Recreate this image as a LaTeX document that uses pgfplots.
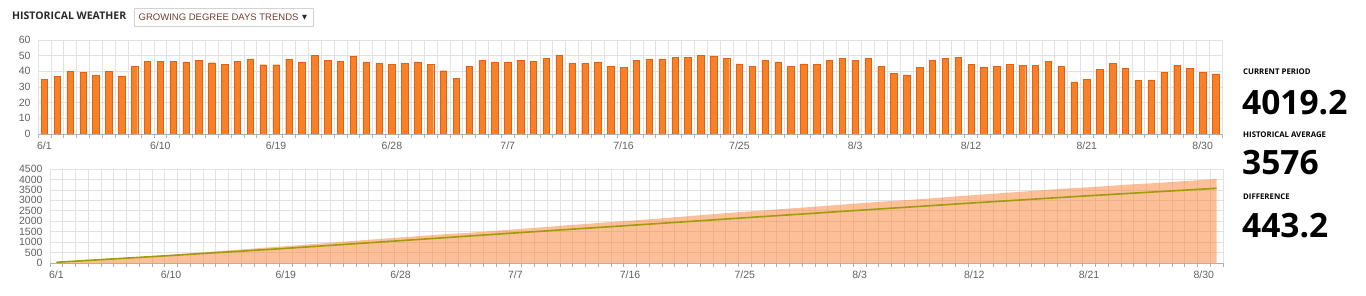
\documentclass[border=0pt]{standalone}
\usepackage{pgfplots}
\pgfplotsset{compat=1.18}
\usepackage{fontspec}
\setmainfont{Liberation Sans}
\newfontfamily\osans{Open Sans}
\newfontfamily\djv{DejaVu Sans}
\definecolor{barorange}{RGB}{247,128,40}
\definecolor{bardark}{RGB}{224,98,18}
\definecolor{areaorange}{RGB}{249,128,48}
\definecolor{linegreen}{RGB}{158,156,8}
\definecolor{gridgray}{RGB}{226,226,226}
\definecolor{axisgray}{RGB}{176,176,176}
\definecolor{labelgray}{RGB}{96,96,96}
\definecolor{titlecol}{RGB}{40,40,40}
\definecolor{ddbrown}{RGB}{112,62,50}
\definecolor{boxgray}{RGB}{210,210,210}
\pgfplotsset{
  gddaxis/.style={
    anchor=south west, scale only axis,
    xmin=-0.5, xmax=91.5, ymin=0,
    xtick={-0.5,0.5,...,91.5}, xticklabels={},
    extra x ticks={0,9,18,27,36,45,54,63,72,81,90},
    extra x tick labels={6/1,6/10,6/19,6/28,7/7,7/16,7/25,8/3,8/12,8/21,8/30},
    extra x tick style={major tick length=0pt, grid=none},
    xmajorgrids, ymajorgrids,
    grid style={color=gridgray, line width=0.6pt},
    axis line style={draw=none},
    xtick pos=left, ytick pos=left,
    tick align=outside, major tick length=4pt,
    xtick style={color=axisgray, line width=0.6pt},
    ytick style={draw=none},
    ticklabel style={font=\fontsize{10.5}{12}\selectfont, color=labelgray},
    xticklabel style={yshift=-4.5pt},
    /pgf/number format/assume math mode=true,
    /pgf/number format/1000 sep={},
    clip=false,
  }
}
\begin{document}
\begin{tikzpicture}[x=1pt,y=1pt]
\path[use as bounding box] (0,0) rectangle (1366,296);
% header
\node[anchor=base west, inner sep=0pt, font=\osans\bfseries\fontsize{10.5}{12}\selectfont, text=titlecol] at (12,276) {HISTORICAL WEATHER};
\draw[boxgray, line width=0.7pt] (134,287.7) rectangle (313,269.3);
\node[anchor=base west, inner sep=0pt, font=\fontsize{9.5}{11}\selectfont, text=ddbrown] at (138.5,275) {GROWING DEGREE DAYS TRENDS};
\node[anchor=base west, inner sep=0pt, font=\djv\fontsize{6.5}{8}\selectfont, text=titlecol] at (302,276) {▼};
% right panel
\node[anchor=base west, inner sep=0pt, font=\osans\bfseries\fontsize{7.8}{9}\selectfont, text=black] at (1243,221) {CURRENT PERIOD};
\node[anchor=base west, inner sep=0pt, font=\osans\bfseries\fontsize{33.5}{36}\selectfont, text=black] at (1242,181) {4019.2};
\node[anchor=base west, inner sep=0pt, font=\osans\bfseries\fontsize{7.8}{9}\selectfont, text=black] at (1243,158.3) {HISTORICAL AVERAGE};
\node[anchor=base west, inner sep=0pt, font=\osans\bfseries\fontsize{33.5}{36}\selectfont, text=black] at (1242,121) {3576};
\node[anchor=base west, inner sep=0pt, font=\osans\bfseries\fontsize{7.8}{9}\selectfont, text=black] at (1243,96) {DIFFERENCE};
\node[anchor=base west, inner sep=0pt, font=\osans\bfseries\fontsize{33.5}{36}\selectfont, text=black] at (1242,58) {443.2};
% top: daily GDD bars
\begin{axis}[gddaxis, at={(38pt,162pt)}, width=1184pt, height=94pt,
  ymax=60, ytick={0,10,...,60}, ybar, bar width=0.5]
\addplot[fill=barorange, draw=bardark, line width=0.4pt] coordinates {
(0,34.7) (1,36.8) (2,39.8) (3,39.2) (4,37.3) (5,40.2) (6,37.1) (7,43.2) (8,46.3) (9,46.5)
(10,46.5) (11,46.1) (12,47.2) (13,45.5) (14,44.4) (15,46.5) (16,48.0) (17,44.2) (18,44.2) (19,48.0)
(20,46.1) (21,50.3) (22,47.2) (23,46.3) (24,49.5) (25,46.1) (26,45.1) (27,44.5) (28,44.9) (29,46.0)
(30,44.3) (31,40.4) (32,35.5) (33,43.4) (34,47.0) (35,46.0) (36,46.0) (37,47.0) (38,46.4) (39,48.1)
(40,50.2) (41,45.1) (42,45.1) (43,46.0) (44,43.4) (45,42.6) (46,47.2) (47,47.9) (48,47.9) (49,48.7)
(50,49.1) (51,50.0) (52,49.8) (53,48.1) (54,44.7) (55,43.0) (56,47.0) (57,46.1) (58,43.2) (59,44.7)
(60,44.3) (61,46.8) (62,48.1) (63,46.8) (64,48.3) (65,43.0) (66,38.5) (67,37.7) (68,42.6) (69,47.0)
(70,48.1) (71,49.1) (72,44.3) (73,42.8) (74,43.4) (75,44.5) (76,43.8) (77,43.8) (78,46.4) (79,43.0)
(80,33.2) (81,35.1) (82,41.3) (83,44.9) (84,41.9) (85,34.3) (86,34.5) (87,39.4) (88,43.6) (89,41.7)
(90,39.4) (91,38.3)};
\draw[axisgray, line width=0.7pt] (axis cs:-0.5,0) -- (axis cs:91.5,0);
\end{axis}
% bottom: cumulative
\begin{axis}[gddaxis, at={(50pt,33pt)}, width=1173pt, height=94pt,
  ymax=4500, ytick={0,500,...,4500}]
\addplot[fill=areaorange, fill opacity=0.5, draw=none] coordinates {
(0,34.2) (1,70.6) (2,109.9) (3,148.7) (4,185.5) (5,225.2) (6,261.9) (7,304.6) (8,350.5) (9,396.5)
(10,442.5) (11,488.2) (12,534.9) (13,580.0) (14,623.9) (15,669.9) (16,717.5) (17,761.2) (18,805.0) (19,852.5)
(20,898.1) (21,948.0) (22,994.7) (23,1040.6) (24,1089.6) (25,1135.2) (26,1179.9) (27,1223.9) (28,1268.4) (29,1313.9)
(30,1357.7) (31,1397.7) (32,1432.7) (33,1475.7) (34,1522.2) (35,1567.7) (36,1613.3) (37,1659.8) (38,1705.8) (39,1753.4)
(40,1803.1) (41,1847.8) (42,1892.4) (43,1938.0) (44,1980.9) (45,2023.0) (46,2069.8) (47,2117.2) (48,2164.7) (49,2212.9)
(50,2261.5) (51,2311.1) (52,2360.4) (53,2408.1) (54,2452.3) (55,2494.8) (56,2541.4) (57,2587.0) (58,2629.8) (59,2674.0)
(60,2717.8) (61,2764.2) (62,2811.8) (63,2858.2) (64,2906.0) (65,2948.5) (66,2986.6) (67,3023.8) (68,3066.0) (69,3112.5)
(70,3160.1) (71,3208.8) (72,3252.6) (73,3295.0) (74,3337.9) (75,3381.9) (76,3425.3) (77,3468.6) (78,3514.6) (79,3557.1)
(80,3589.8) (81,3624.5) (82,3665.3) (83,3709.8) (84,3751.2) (85,3785.0) (86,3819.1) (87,3858.0) (88,3901.2) (89,3942.4)
(90,3981.3) (91,4019.2)} \closedcycle;
\addplot[linegreen, line width=1.6pt] coordinates {
(0,35) (9,360) (18,700) (27,1070) (36,1440) (45,1800) (54,2165) (63,2525) (72,2880) (81,3221) (91,3576)};
\draw[axisgray, line width=0.7pt] (axis cs:-0.5,0) -- (axis cs:91.5,0);
\end{axis}
\end{tikzpicture}
\end{document}
